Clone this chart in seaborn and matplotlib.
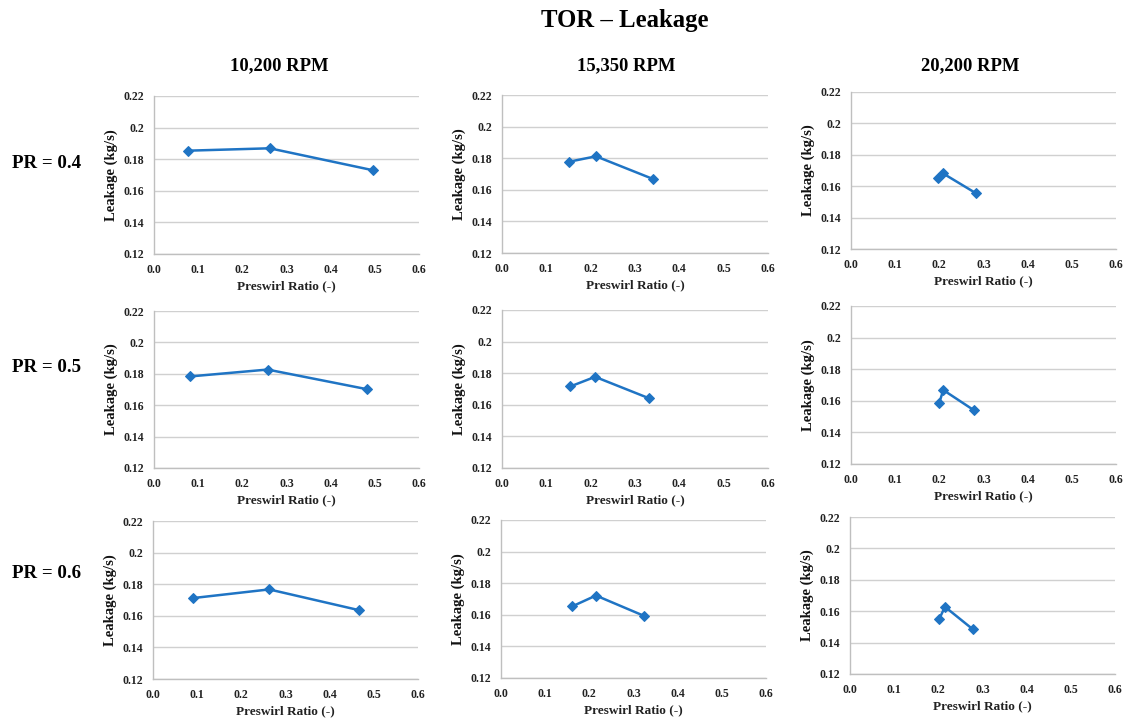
import matplotlib
matplotlib.use("Agg")
import matplotlib.pyplot as plt
import seaborn as sns
import pandas as pd

sns.set_theme(style="white")
plt.rcParams['font.family'] = ['Liberation Serif', 'DejaVu Serif']

# Data: preswirl ratio (x) and leakage (kg/s) for each panel
rpm_labels = ["10,200 RPM", "15,350 RPM", "20,200 RPM"]
pr_labels = ["PR = 0.4", "PR = 0.5", "PR = 0.6"]

x_pr04_10200 = [0.078, 0.262, 0.496]
y_pr04_10200 = [0.1854, 0.1869, 0.1730]
x_pr04_15350 = [0.150, 0.212, 0.340]
y_pr04_15350 = [0.1777, 0.1812, 0.1669]
x_pr04_20200 = [0.197, 0.208, 0.283]
y_pr04_20200 = [0.1655, 0.1682, 0.1555]

x_pr05_10200 = [0.081, 0.257, 0.482]
y_pr05_10200 = [0.1783, 0.1827, 0.1702]
x_pr05_15350 = [0.154, 0.210, 0.331]
y_pr05_15350 = [0.1716, 0.1777, 0.1642]
x_pr05_20200 = [0.200, 0.209, 0.279]
y_pr05_20200 = [0.1589, 0.1668, 0.1539]

x_pr06_10200 = [0.090, 0.263, 0.466]
y_pr06_10200 = [0.1712, 0.1767, 0.1636]
x_pr06_15350 = [0.161, 0.215, 0.324]
y_pr06_15350 = [0.1653, 0.1722, 0.1593]
x_pr06_20200 = [0.202, 0.215, 0.278]
y_pr06_20200 = [0.1550, 0.1628, 0.1485]

series = [
    [(x_pr04_10200, y_pr04_10200), (x_pr04_15350, y_pr04_15350), (x_pr04_20200, y_pr04_20200)],
    [(x_pr05_10200, y_pr05_10200), (x_pr05_15350, y_pr05_15350), (x_pr05_20200, y_pr05_20200)],
    [(x_pr06_10200, y_pr06_10200), (x_pr06_15350, y_pr06_15350), (x_pr06_20200, y_pr06_20200)],
]

x_ticks = [0.0, 0.1, 0.2, 0.3, 0.4, 0.5, 0.6]
x_ticklabels = ["0.0", "0.1", "0.2", "0.3", "0.4", "0.5", "0.6"]
y_ticks = [0.12, 0.14, 0.16, 0.18, 0.20, 0.22]
y_ticklabels = ["0.12", "0.14", "0.16", "0.18", "0.2", "0.22"]

W, H = 1129, 719
fig = plt.figure(figsize=(W / 100, H / 100), dpi=100)
fig.patch.set_facecolor("white")

# axes pixel boxes (left, top, right, bottom)
boxes = [
    [(154, 96, 419, 254), (502, 95, 768, 253), (851, 92, 1116, 249)],
    [(154, 311, 419, 468), (502, 310, 768, 468), (851, 306, 1116, 464)],
    [(153, 521, 418, 679), (501, 520, 766, 678), (850, 517, 1115, 674)],
]

line_color = "#1F74C4"
grid_color = "#D0D0D0"

for r in range(3):
    for c in range(3):
        l, t, rr, b = boxes[r][c]
        ax = fig.add_axes([l / W, 1 - b / H, (rr - l) / W, (b - t) / H])
        xs, ys = series[r][c]
        df = pd.DataFrame({"x": xs, "y": ys})
        sns.lineplot(data=df, x="x", y="y", ax=ax, sort=False, color=line_color,
                     linewidth=1.8, marker="D", markersize=5.5,
                     markeredgecolor=line_color, markerfacecolor=line_color)
        ax.set_xlim(0, 0.6)
        ax.set_ylim(0.12, 0.22)
        ax.set_xticks(x_ticks)
        ax.set_xticklabels(x_ticklabels, fontsize=8.5, fontweight="bold")
        ax.set_yticks(y_ticks)
        ax.set_yticklabels(y_ticklabels, fontsize=8.5, fontweight="bold")
        ax.yaxis.grid(True, color=grid_color, linewidth=1.0)
        ax.xaxis.grid(False)
        ax.set_axisbelow(True)
        for s in ["top", "right"]:
            ax.spines[s].set_visible(False)
        for s in ["left", "bottom"]:
            ax.spines[s].set_color("#BFBFBF")
            ax.spines[s].set_linewidth(1.0)
        ax.tick_params(axis="both", which="major", direction="out", length=4,
                       width=1.0, color="#BFBFBF", labelcolor="#222222", pad=3)
        ax.set_xlabel("Preswirl Ratio (-)", fontsize=9.5, fontweight="bold",
                      color="#222222", labelpad=3)
        ax.set_ylabel("Leakage (kg/s)", fontsize=10.5, fontweight="bold",
                      color="#111111", labelpad=4)
        ax.set_facecolor("white")

fig.text(625 / W, 1 - 20 / H, "TOR \u2013 Leakage", ha="center", va="center",
         fontsize=17.8, fontweight="bold", color="black")
col_x = [279.5, 626, 970]
for cx, lab in zip(col_x, rpm_labels):
    fig.text(cx / W, 1 - 66 / H, lab, ha="center", va="center",
             fontsize=13.4, fontweight="bold", color="black")
row_y = [163, 368, 573]
for ry, lab in zip(row_y, pr_labels):
    fig.text(12 / W, 1 - ry / H, lab, ha="left", va="center",
             fontsize=13.6, fontweight="bold", color="black")

fig.savefig("out.png", dpi=100, facecolor="white")
